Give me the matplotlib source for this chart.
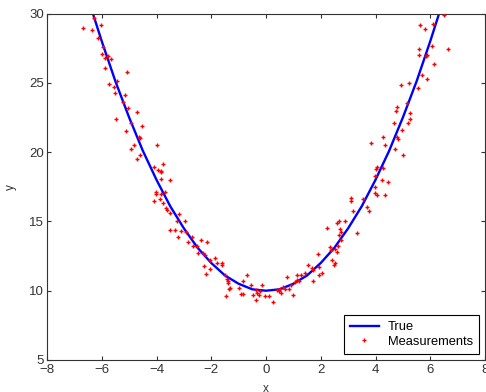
import matplotlib
matplotlib.use("Agg")
import matplotlib.pyplot as plt

plt.rcParams['font.family'] = ['Liberation Sans', 'DejaVu Sans']

# true model curve
true_x = [-6.3, -6.0, -5.5, -5.0, -4.5, -4.0, -3.5, -3.0, -2.5, -2.0, -1.5, -1.0, -0.5,
          0.0, 0.5, 1.0, 1.5, 2.0, 2.5, 3.0, 3.5, 4.0, 4.5, 5.0, 5.5, 6.0, 6.3]
true_y = [29.85, 28.0, 25.1, 22.5, 20.1, 18.0, 16.1, 14.5, 13.1, 12.0, 11.1, 10.5, 10.1,
          10.0, 10.1, 10.5, 11.1, 12.0, 13.1, 14.5, 16.1, 18.0, 20.1, 22.5, 25.1, 28.0, 29.85]

# noisy measurements, estimated point by point
meas_x = [-6.28, -6.67, -6.36, -6.04, -6.15, -5.96, -6.0, -5.76, -5.88, -5.67,
          -5.89, -5.08, -5.45, -5.74, -5.55, -5.51, -5.15, -5.24, -5.04, -4.71,
          -5.47, -4.93, -4.53, -5.11, -4.64, -4.59, -3.97, -4.81, -4.93, -4.73,
          -4.59, -4.08, -3.75, -3.93, -3.84, -3.82, -3.82, -3.49, -4.01, -4.01,
          -3.69, -3.82, -4.08, -3.86, -3.75, -3.64, -3.6, -3.49, -3.16, -3.24,
          -2.95, -3.49, -3.31, -3.09, -3.2, -2.86, -2.69, -2.65, -2.51, -2.49,
          -2.92, -2.38, -2.16, -2.31, -2.22, -2.04, -1.86, -1.78, -1.62, -1.61,
          -2.26, -2.04, -2.19, -1.5, -1.44, -1.37, -1.39, -1.31, -1.34, -1.46,
          -0.93, -0.85, -0.97, -0.83, -0.7, -0.56, -0.49, -0.37, -0.34, -0.22,
          -0.15, -0.24, -0.37, -0.03, 0.12, 0.27, 0.41, 0.51, 0.46, 0.56,
          0.63, 0.75, 0.7, 0.83, 0.9, 1.0, 1.05, 1.14, 1.12, 1.19,
          3.84, 4.33, 4.72, 5.01, 4.06, 4.01, 4.26, 3.97, 4.23, 4.45,
          3.97, 3.99, 4.06, 4.35, 3.09, 3.09, 3.53, 3.68, 3.75, 3.16,
          2.89, 2.6, 2.68, 2.24, 2.7, 2.75, 3.33, 2.68, 2.75, 2.63,
          2.34, 2.36, 2.51, 2.6, 1.9, 2.41, 2.53, 2.48, 1.53, 1.95,
          1.68, 1.73, 1.43, 2.04, 1.95, 1.27, 1.7,
          6.5, 5.62, 5.81, 6.11, 6.64, 6.08, 5.59, 5.59, 5.89, 5.84,
          6.13, 5.69, 5.89, 5.21, 4.92, 5.57, 5.16, 4.77, 4.74, 5.26,
          5.26, 5.18, 4.67, 4.96, 4.26, 4.77, 4.82]
meas_y = [29.7, 28.95, 28.8, 29.2, 28.2, 27.6, 27.1, 26.9, 26.8, 26.7,
          26.05, 25.8, 25.1, 24.9, 24.7, 24.3, 24.1, 23.6, 23.2, 22.9,
          22.4, 22.1, 21.9, 21.5, 21.1, 21.0, 20.5, 20.5, 20.25, 19.5,
          19.8, 18.95, 19.14, 18.7, 18.66, 18.55, 18.04, 17.97, 17.1, 16.95,
          17.1, 16.95, 16.5, 16.6, 16.3, 15.95, 15.8, 15.6, 15.5, 15.0,
          15.05, 14.4, 14.4, 14.3, 13.9, 13.5, 13.9, 13.2, 13.2, 12.7,
          14.2, 13.65, 13.5, 12.7, 12.58, 12.2, 12.34, 12.02, 12.0, 11.83,
          11.78, 11.57, 11.2, 11.16, 10.87, 10.68, 10.53, 10.22, 10.1, 9.62,
          9.74, 9.78, 10.22, 10.68, 11.11, 10.43, 9.71, 10.05, 9.86, 10.0,
          10.43, 9.71, 9.33, 9.62, 9.62, 9.18, 10.05, 10.1, 10.0, 9.86,
          10.25, 10.97, 10.1, 10.1, 10.39, 9.71, 10.63, 11.11, 10.77, 10.72,
          20.68, 20.54, 20.2, 19.81, 18.95, 18.8, 18.85, 18.28, 17.99, 17.84,
          17.46, 17.07, 16.93, 16.88, 16.69, 16.49, 16.64, 16.06, 15.73, 15.73,
          15.05, 14.91, 15.0, 14.52, 14.43, 14.24, 14.19, 14.0, 13.66, 13.22,
          13.13, 12.94, 13.03, 12.79, 12.65, 12.21, 11.98, 11.88, 11.83, 11.73,
          11.64, 11.49, 11.25, 11.25, 11.11, 11.15, 10.68,
          29.87, 29.15, 28.9, 29.24, 27.42, 27.66, 27.42, 26.98, 27.03, 26.93,
          26.36, 25.54, 25.3, 25.0, 24.86, 24.62, 23.56, 23.28, 22.94, 22.8,
          22.37, 22.08, 22.08, 21.6, 21.07, 21.11, 20.97]

x_ticks = [-8, -6, -4, -2, 0, 2, 4, 6, 8]
y_ticks = [5, 10, 15, 20, 25, 30]

fig = plt.figure(figsize=(4.86, 3.92), dpi=100)
fig.patch.set_facecolor('white')
ax = fig.add_axes([47 / 486, 32 / 392, 438 / 486, 346.5 / 392])

ax.plot(true_x, true_y, color='#0000ff', linewidth=1.7, label='True', zorder=2)
ax.plot(meas_x, meas_y, linestyle='none', marker='+', color='red',
        markersize=3.5, markeredgewidth=1.0, label='Measurements', zorder=3)

ax.set_xlim(-8, 8)
ax.set_ylim(5, 30)
ax.set_xticks(x_ticks)
ax.set_yticks(y_ticks)
ax.tick_params(direction='in', top=True, right=True, length=3, width=0.8,
               labelsize=9.5, colors='#333333')
ax.tick_params(axis='x', pad=3)
ax.tick_params(axis='y', pad=2)
for s in ax.spines.values():
    s.set_color('#333333')
    s.set_linewidth(0.8)

ax.set_xlabel('x', fontsize=8.5, color='#333333', labelpad=5)
ax.set_ylabel('y', fontsize=8.5, color='#333333', labelpad=9)

leg = ax.legend(loc='lower right', fontsize=9.3, fancybox=False, framealpha=1,
                edgecolor='black', borderaxespad=0.45, handlelength=2.2,
                handletextpad=0.7, borderpad=0.5, labelspacing=0.2)
leg.get_frame().set_linewidth(0.8)

fig.savefig('out.png', dpi=100)
